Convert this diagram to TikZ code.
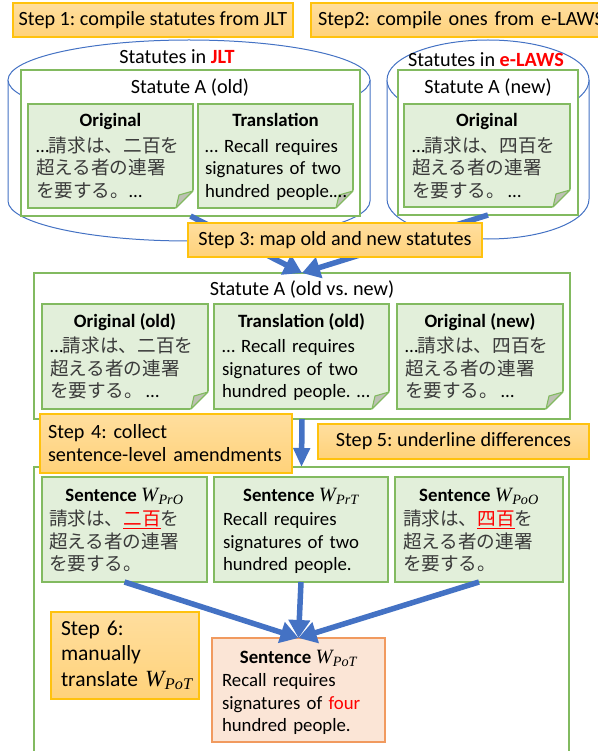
\documentclass[tikz,border=0pt]{standalone}
\usepackage{fontspec}
\setmainfont{Carlito}
\newfontfamily\jp[Scale=0.99]{Noto Sans CJK JP}
\newfontfamily\wfont[Scale=1.08]{Liberation Serif}
\usetikzlibrary{arrows.meta,calc}
\frenchspacing
\hyphenpenalty=10000
\definecolor{gborder}{HTML}{82BA60}
\definecolor{gfill}{HTML}{E2EFDA}
\definecolor{stopc}{HTML}{FFDE9E}
\definecolor{sbotc}{HTML}{FFD27A}
\definecolor{sborder}{HTML}{FFC20E}
\definecolor{cylblue}{HTML}{4472C4}
\definecolor{pfill}{HTML}{FBE5D6}
\definecolor{pborder}{HTML}{F19A5F}
\definecolor{foldgray}{HTML}{BDC1B3}
\definecolor{jred}{HTML}{FF0000}
\definecolor{jtext}{HTML}{3A3A3A}
\newcommand{\J}[1]{{\jp\color{jtext}#1}}
\newcommand{\Wv}[1]{{\wfont\itshape W\kern0.5pt\textsubscript{#1}}}
\newcommand{\notefold}[1]{%
  \fill[white] ($(#1.south east)+(-18.5,1.5)$) -- ($(#1.south east)+(1.5,-18.5)$) -- ($(#1.south east)+(1.5,1.5)$) -- cycle;
  \draw[gborder, line width=1.1pt, fill=foldgray, line join=round] ($(#1.south east)+(0,-17)$) -- ($(#1.south east)+(-14,-13)$) -- ($(#1.south east)+(-17,0)$) -- cycle;}
% #1 box name, #2 title, #3 left pad, #4 body lines, #5 title baseline offset
\newcommand{\notetext}[5]{%
  \node[ntitle] (#1t) at ($(#1.north)+(0,#5)$) {#2};
  \node[nbody] (#1b) at ($(#1.north west)+(#3,48.5)$) {#4};}
\begin{document}
\begin{tikzpicture}[x=1pt,y=-1pt,
  font=\fontsize{20.2}{23}\selectfont,
  every node/.style={outer sep=0pt},
  stepbox/.style={draw=sborder, top color=stopc, bottom color=sbotc, line width=1.1pt, anchor=north west, inner ysep=0pt},
  gbox/.style={draw=gborder, fill=white, line width=1.1pt, anchor=north west, inner sep=0pt},
  note/.style={draw=gborder, fill=gfill, line width=1.1pt, anchor=north west, inner sep=0pt},
  ntitle/.style={anchor=base, inner sep=0pt, font=\fontsize{18.8}{22.5}\selectfont},
  nbody/.style={anchor=base west, inner sep=0pt, text width=165pt, align=left, font=\fontsize{18.8}{22.5}\selectfont},
  cyl/.style={draw=cylblue, fill=white, line width=1pt},
  bluearrow/.style={draw=cylblue, line width=5.5pt, -{Triangle[length=18pt,width=21pt]}},
  ttl/.style={inner sep=0pt}
]
\useasboundingbox (0,0) rectangle (597,751);

% step 1 and 2
\node[stepbox, minimum width=280, minimum height=34] (s1) at (13,3) {Step 1: compile statutes from JLT};
\node[stepbox, minimum width=340, minimum height=34, text width=326, align=left, inner xsep=7pt] (s2) at (311,3) {\mbox{Step2: compile ones from e-LAWS}};

% cylinders
\path[cyl, draw=none] (8,80) -- (8,201) arc[start angle=180, end angle=0, x radius=181, y radius=40] -- (370,80) -- cycle;
\draw[cyl, fill=none] (8,80) -- (8,201) arc[start angle=180, end angle=0, x radius=181, y radius=40] -- (370,80);
\draw[cyl] (189,80) ellipse[x radius=181, y radius=40];
\path[cyl, draw=none] (387,80) -- (387,199) arc[start angle=180, end angle=0, x radius=101, y radius=40] -- (589,80) -- cycle;
\draw[cyl, fill=none] (387,80) -- (387,199) arc[start angle=180, end angle=0, x radius=101, y radius=40] -- (589,80);
\draw[cyl] (488,80) ellipse[x radius=101, y radius=40];
\node[ttl] (c1lbl) at (177,57) {Statutes in \textcolor{jred}{\bfseries JLT}};
\node[ttl] (c2lbl) at (486,60) {Statutes in \textcolor{jred}{\bfseries e-LAWS}};

% old statute box
\node[gbox, minimum width=339, minimum height=146] (ga) at (21,70) {};
\node[ttl] (gat) at (190,88) {Statute A (old)};
\node[note, minimum width=165, minimum height=104] (n1) at (28,104) {};
\notefold{n1}
\notetext{n1}{\bfseries Original}{8}{…\J{請求は、二百を}\\\J{超える者の連署}\\\J{を要する。}…}{23}
\node[note, minimum width=155, minimum height=104] (n2) at (198,104) {};
\notefold{n2}
\notetext{n2}{\bfseries Translation}{7}{… Recall requires\\signatures of two\\hundred people.…}{23}

% new statute box
\node[gbox, minimum width=180, minimum height=145] (gb) at (398,70) {};
\node[ttl] (gbt) at (488,88) {Statute A (new)};
\node[note, minimum width=166, minimum height=103] (n3) at (404,104) {};
\notefold{n3}
\notetext{n3}{\bfseries Original}{8}{…\J{請求は、四百を}\\\J{超える者の連署}\\\J{を要する。}\,…}{23}

% middle box
\node[gbox, minimum width=536, minimum height=146] (mid) at (34,273) {};
\node[ttl] (midt) at (302,290) {Statute A (old vs. new)};

\draw[bluearrow] (ga.south) -- (mid.north);
\draw[bluearrow] (gb.south) -- (mid.north);

\node[stepbox, minimum width=294, minimum height=34] (s3) at (188,223) {Step 3: map old and new statutes};

\node[note, minimum width=166, minimum height=105] (m1) at (42,304) {};
\notefold{m1}
\notetext{m1}{\bfseries Original (old)}{8}{…\J{請求は、二百を}\\\J{超える者の連署}\\\J{を要する。}\,…}{23}
\node[note, minimum width=175, minimum height=105] (m2) at (214,304) {};
\notefold{m2}
\notetext{m2}{\bfseries Translation (old)}{8}{… Recall requires\\signatures of two\\hundred people. …}{23}
\node[note, minimum width=166, minimum height=105] (m3) at (397,304) {};
\notefold{m3}
\notetext{m3}{\bfseries Original (new)}{8}{…\J{請求は、四百を}\\\J{超える者の連署}\\\J{を要する。}\,…}{23}

% bottom box
\node[gbox, minimum width=535, minimum height=340] (bot) at (34,467) {};
\draw[bluearrow, -{Triangle[length=19pt,width=16pt]}] (mid.south) -- (bot.north);

\node[stepbox, minimum width=252, minimum height=59, text width=236, align=left, inner xsep=8pt] (s4) at (40,414)
  {\mbox{Step 4: collect}\\\mbox{sentence-level amendments}};
\node[stepbox, minimum width=271, minimum height=35] (s5) at (318,424) {Step 5: underline differences};

\node[note, minimum width=165, minimum height=105] (w1) at (42,477) {};
\notetext{w1}{\textbf{Sentence} \Wv{PrO}}{7}{\J{請求は、\textcolor{jred}{\underline{二百}}を}\\\J{超える者の連署}\\\J{を要する。}}{24}
\node[note, minimum width=174, minimum height=105] (w2) at (214,477) {};
\notetext{w2}{\textbf{Sentence} \Wv{PrT}}{9}{Recall requires\\signatures of two\\hundred people.}{24}
\node[note, minimum width=168, minimum height=105] (w3) at (395,477) {};
\notetext{w3}{\textbf{Sentence} \Wv{PoO}}{8}{\J{請求は、\textcolor{jred}{\underline{四百}}を}\\\J{超える者の連署}\\\J{を要する。}}{24}

\node[note, draw=pborder, fill=pfill, minimum width=173, minimum height=104] (w4) at (212,638) {};
\notetext{w4}{\textbf{Sentence} \Wv{PoT}}{10}{Recall requires\\signatures of \textcolor{jred}{four}\\hundred people.}{25}

\draw[bluearrow] (w1.south) -- (w4.north);
\draw[bluearrow] (w2.south) -- (w4.north);
\draw[bluearrow] (w3.south) -- (w4.north);

\node[stepbox, minimum width=148, minimum height=87, text width=128, align=left, inner xsep=10pt, font=\fontsize{21.5}{25.5}\selectfont] (s6) at (51,612)
  {Step 6:\\manually\\\mbox{translate \Wv{PoT}}};
\end{tikzpicture}
\end{document}
